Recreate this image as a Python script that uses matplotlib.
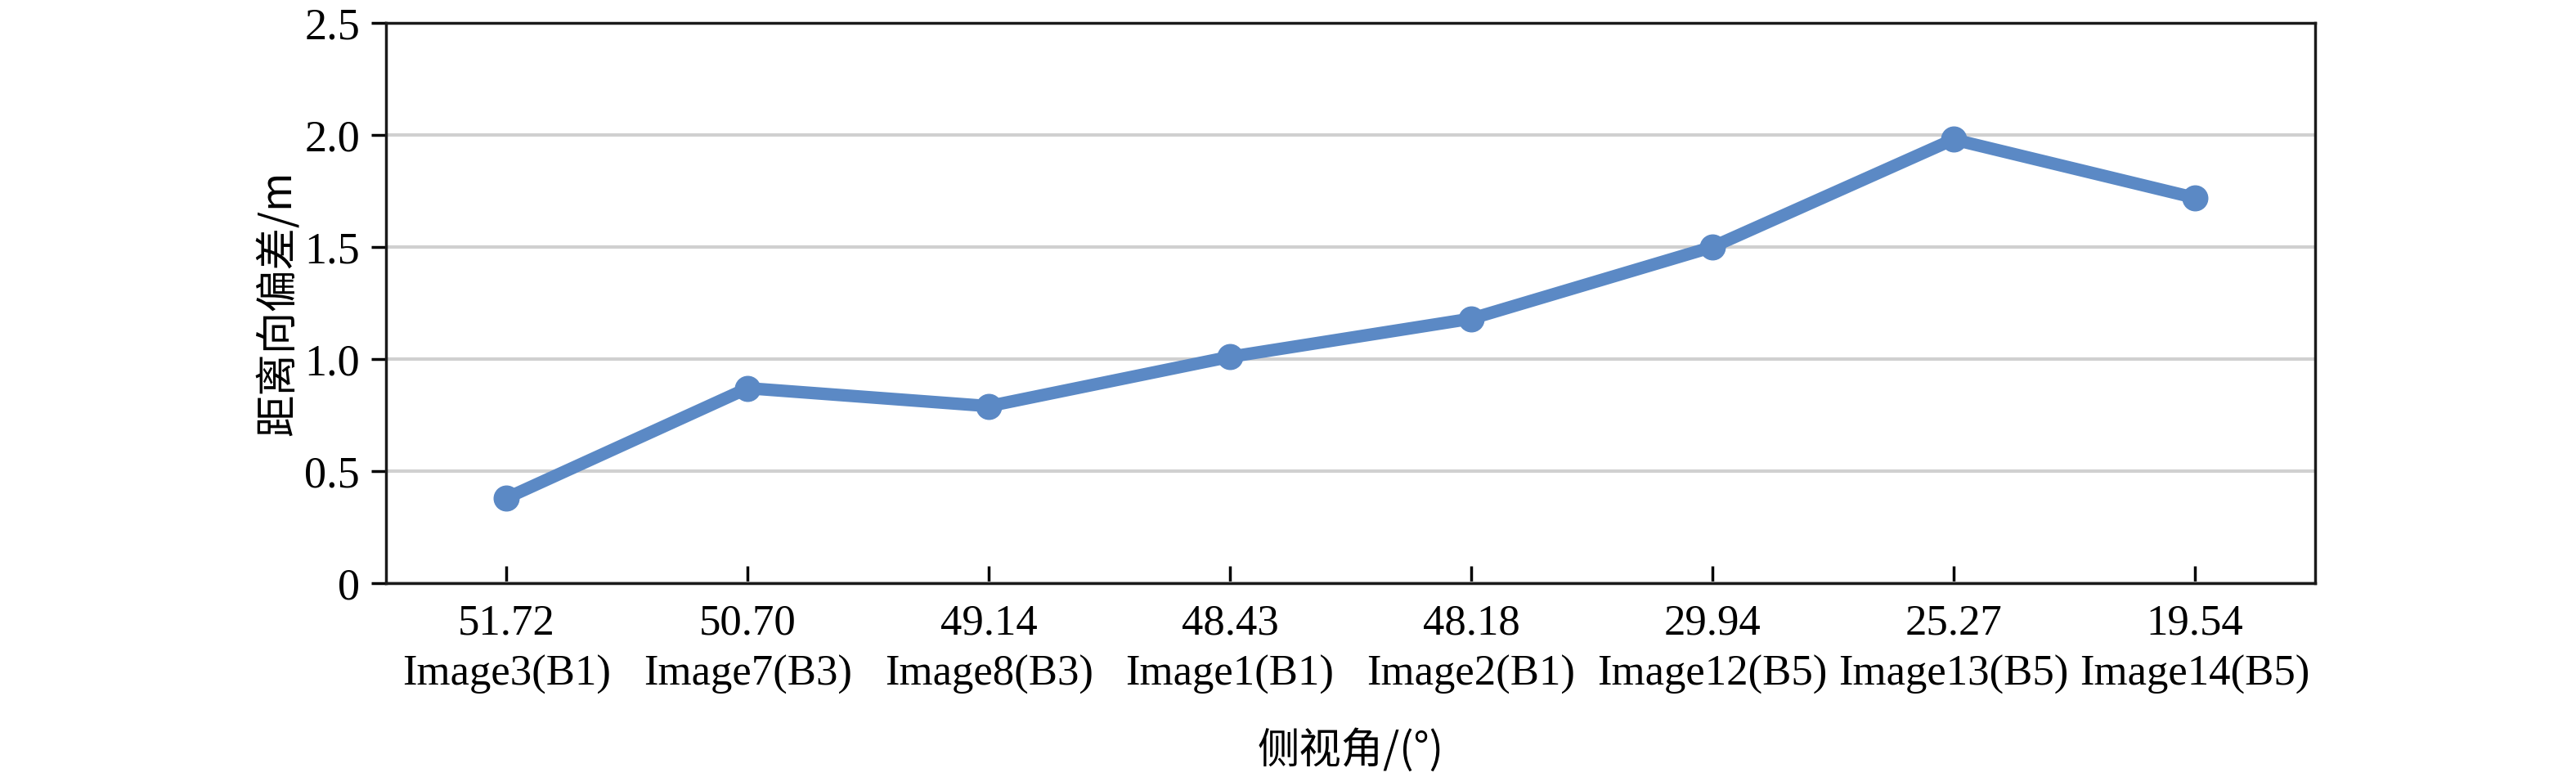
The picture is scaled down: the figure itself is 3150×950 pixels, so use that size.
import matplotlib
matplotlib.use("Agg")
import matplotlib.pyplot as plt

angles = ["51.72", "50.70", "49.14", "48.43", "48.18", "29.94", "25.27", "19.54"]
images = ["Image3(B1)", "Image7(B3)", "Image8(B3)", "Image1(B1)", "Image2(B1)",
          "Image12(B5)", "Image13(B5)", "Image14(B5)"]
deviation = [0.38, 0.87, 0.79, 1.01, 1.18, 1.50, 1.98, 1.72]
yticks = [0, 0.5, 1.0, 1.5, 2.0, 2.5]
ytick_labels = ["0", "0.5", "1.0", "1.5", "2.0", "2.5"]

serif = ["Liberation Serif", "DejaVu Serif"]
cjk = ["Noto Sans CJK SC", "DejaVu Sans"]

fig = plt.figure(figsize=(31.5, 9.5), dpi=100)
ax = fig.add_axes([472/3150, 1-713/950, (2831-472)/3150, (713-28)/950])

x = list(range(len(deviation)))
ax.plot(x, deviation, color="#5B89C5", lw=11, marker="o", markersize=22,
        solid_capstyle="round", solid_joinstyle="round", zorder=3)

ax.set_xlim(-0.5, len(deviation) - 0.5)
ax.set_ylim(0, 2.5)
ax.set_yticks(yticks)
ax.set_yticklabels(ytick_labels, fontfamily=serif, fontsize=39)
ax.set_xticks(x)
ax.set_xticklabels([f"{a}\n{b}" for a, b in zip(angles, images)],
                   fontfamily=serif, fontsize=38, linespacing=1.4)

ax.grid(axis="y", color="#D0D0D0", lw=3, zorder=0)
ax.set_axisbelow(True)
for s in ax.spines.values():
    s.set_linewidth(2.5)
    s.set_color("#1a1a1a")
ax.tick_params(axis="y", direction="out", length=13, width=2.5, pad=10)
ax.tick_params(axis="x", direction="in", length=15, width=2.5, pad=18)

ax.set_ylabel("距离向偏差/m", fontfamily=cjk, fontsize=37, labelpad=4)
ax.set_xlabel("侧视角/(°)", fontfamily=cjk, fontsize=37, labelpad=30)

fig.savefig("out.png", dpi=100, facecolor="white")
